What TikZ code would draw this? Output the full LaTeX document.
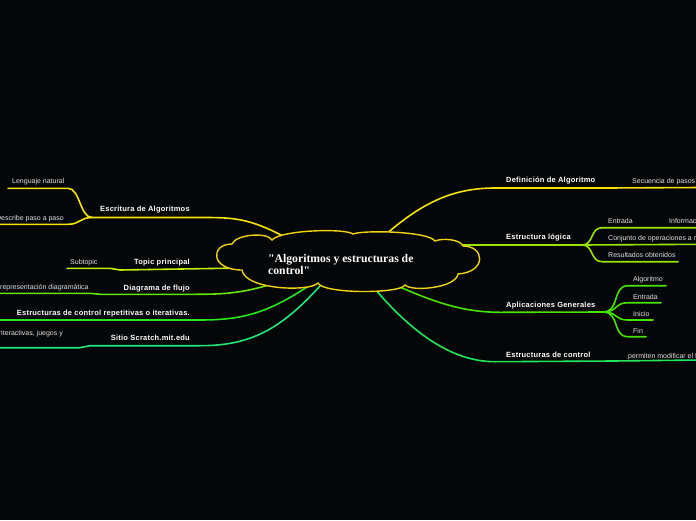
\documentclass[tikz,border=0pt]{standalone}
\usepackage{fontspec}
\setmainfont{Liberation Sans}
\newfontfamily\titlefont{Liberation Serif}
\newfontfamily\topicfont[LetterSpace=3]{Liberation Sans}
\definecolor{bgblack}{RGB}{5, 6, 8}
\definecolor{cloudyellow}{RGB}{240, 210, 20}
\definecolor{lyellow}{RGB}{245, 228, 10}
\definecolor{lime}{RGB}{190, 238, 0}
\definecolor{limegreen}{RGB}{150, 230, 0}
\definecolor{grass}{RGB}{100, 230, 0}
\definecolor{apgreen}{RGB}{70, 226, 0}
\definecolor{green}{RGB}{40, 230, 30}
\definecolor{mint}{RGB}{34, 230, 90}
\definecolor{seagreen}{RGB}{34, 230, 120}
\definecolor{lightgray}{RGB}{225, 225, 225}
\tikzset{
    topic/.style={
        font=\topicfont\fontsize{7.5}{8.5}\selectfont\bfseries, text=white,
        inner sep=0pt
    },
    subtopic/.style={
        font=\fontsize{7}{8}\selectfont, text=lightgray,
        inner sep=0pt
    },
    branch/.style={line width=1.6pt, color=#1, line cap=round},
    cloudline/.style={draw=cloudyellow, line width=1.4pt, fill=bgblack},
    central/.style={
        text=white, font=\titlefont\fontsize{11.7}{12}\selectfont\bfseries,
        align=left, inner sep=0pt
    }
}
\begin{document}
\begin{tikzpicture}[x=1pt, y=-1pt]
    \useasboundingbox (0,0) rectangle (696,520);
    \clip (0,0) rectangle (696,520);
    \fill[bgblack] (0,0) rectangle (696,520);

    % Branch points
    \coordinate (c-esc) at (283,236);
    \coordinate (c-top) at (241,268);
    \coordinate (c-dia) at (275,283);
    \coordinate (c-rep) at (313,283);
    \coordinate (c-scr) at (320,286);
    \coordinate (c-def) at (385,235);
    \coordinate (c-log) at (436,244);
    \coordinate (c-apl) at (395,285);
    \coordinate (c-ctl) at (375,289);

    \coordinate (esc) at (92,217.5);
    \coordinate (log) at (582,245);
    \coordinate (apl) at (603,312);

    % Left: Escritura de Algoritmos
    \node[topic, anchor=base west] (escritura) at (100,211.7) {Escritura de Algoritmos};
    \node[subtopic, anchor=base west] (lenguaje) at (12,183) {Lenguaje natural};
    \node[subtopic, anchor=base east] (describe) at (64,220.7) {Describe paso a paso};
    \draw[branch=lyellow] (c-esc) .. controls (250,219) and (235,217.5) .. (205,217.5) -- (esc);
    \draw[branch=lyellow] (esc) .. controls (80,217.5) and (80,188.3) .. (68,188.3) -- (8,188.3);
    \draw[branch=lyellow] (esc) .. controls (80,217.5) and (80,224.3) .. (68,224.3) -- (-5,224.3);

    % Left: Topic principal
    \node[topic, anchor=base east] (topic) at (190,264.7) {Topic principal};
    \node[subtopic, anchor=base west] (subtopic) at (70,264.7) {Subtopic};
    \draw[branch=lime] (c-top) -- (120,270) -- (110,268.3) -- (67,268.3);

    % Left: Diagrama de flujo
    \node[topic, anchor=base east] (diagrama) at (190,290) {Diagrama de flujo};
    \node[subtopic, anchor=base west] (repr) at (0,289.7) {representación diagramática};
    \draw[branch=grass] (c-dia) .. controls (240,294.3) and (220,294.3) .. (190,294.3) -- (100,294.3) -- (90,293.3) -- (-5,293.3);

    % Left: Estructuras de control repetitivas
    \node[topic, anchor=base east] (repetitivas) at (190,315) {Estructuras de control repetitivas o iterativas.};
    \draw[branch=green] (c-rep) .. controls (270,312) and (245,320) .. (200,320) -- (-5,320);

    % Left: Sitio Scratch
    \node[topic, anchor=base east] (scratch) at (190,340.5) {Sitio Scratch.mit.edu};
    \node[subtopic, anchor=base east] (interactivas) at (63,335.7) {interactivas, juegos y};
    \draw[branch=seagreen] (c-scr) .. controls (280,330) and (250,345.7) .. (200,345.7) -- (90,345.7) -- (80,347.7) -- (-5,347.7);

    % Right: Definicion de Algoritmo
    \node[topic, anchor=base west] (definicion) at (506,182.7) {Definición de Algoritmo};
    \node[subtopic, anchor=base west] (secuencia) at (632,183) {Secuencia de pasos};
    \draw[branch=lyellow] (c-def) .. controls (420,205) and (450,188) .. (495,188) -- (607,188) -- (700,187.5);

    % Right: Estructura logica
    \node[topic, anchor=base west] (logica) at (506,239.7) {Estructura lógica};
    \node[subtopic, anchor=base west] (entrada1) at (608,223) {Entrada};
    \node[subtopic, anchor=base west] (informacion) at (669,223.5) {Información};
    \node[subtopic, anchor=base west] (conjunto) at (608,240.5) {Conjunto de operaciones a realizar};
    \node[subtopic, anchor=base west] (resultados) at (608,257) {Resultados obtenidos};
    \draw[branch=limegreen] (c-log) -- (445,245) -- (log);
    \draw[branch=limegreen] (log) .. controls (594,245) and (590,227.7) .. (602,227.7) -- (700,227.7);
    \draw[branch=limegreen] (log) -- (700,244.3);
    \draw[branch=limegreen] (log) .. controls (594,245) and (590,261.7) .. (602,261.7) -- (678,261.7);

    % Right: Aplicaciones Generales
    \node[topic, anchor=base west] (aplicaciones) at (506,307) {Aplicaciones Generales};
    \node[subtopic, anchor=base west] (algoritmo) at (633,281.7) {Algoritmo};
    \node[subtopic, anchor=base west] (entrada2) at (633,299) {Entrada};
    \node[subtopic, anchor=base west] (inicio) at (633,316) {Inicio};
    \node[subtopic, anchor=base west] (fin) at (633,333) {Fin};
    \draw[branch=apgreen] (c-apl) .. controls (430,300) and (460,312.3) .. (500,312.3) -- (apl);
    \draw[branch=apgreen] (apl) .. controls (620,312) and (612,285.7) .. (628,285.7) -- (666,285.7);
    \draw[branch=apgreen] (apl) .. controls (618,312) and (614,302.7) .. (628,302.7) -- (661,302.7);
    \draw[branch=apgreen] (apl) .. controls (618,312) and (614,320) .. (628,320) -- (653,320);
    \draw[branch=apgreen] (apl) .. controls (620,312) and (612,336.7) .. (628,336.7) -- (646,336.7);

    % Right: Estructuras de control
    \node[topic, anchor=base west] (control) at (506,357) {Estructuras de control};
    \node[subtopic, anchor=base west] (permiten) at (628,358) {permiten modificar el flujo};
    \draw[branch=mint] (c-ctl) .. controls (410,330) and (450,361.7) .. (495,361.7) -- (613,361) -- (700,360);

    % Central topic (cloud)
    \draw[cloudline] (272,240) .. controls (280,230) and (345,228) .. (353,234)
        .. controls (362,230) and (428,231) .. (435,241)
        .. controls (442,238) and (460,239) .. (463,246)
        .. controls (485,246) and (487,272) .. (458,274)
        .. controls (456,288) and (412,292) .. (405,285)
        .. controls (400,294) and (323,294) .. (318,283)
        .. controls (310,292) and (245,290) .. (242,270)
        .. controls (210,270) and (210,244) .. (232,244)
        .. controls (236,234) and (268,232) .. cycle;
    \node[central, anchor=west] (root) at (268,264) {"Algoritmos y estructuras de\\control"};
\end{tikzpicture}
\end{document}
